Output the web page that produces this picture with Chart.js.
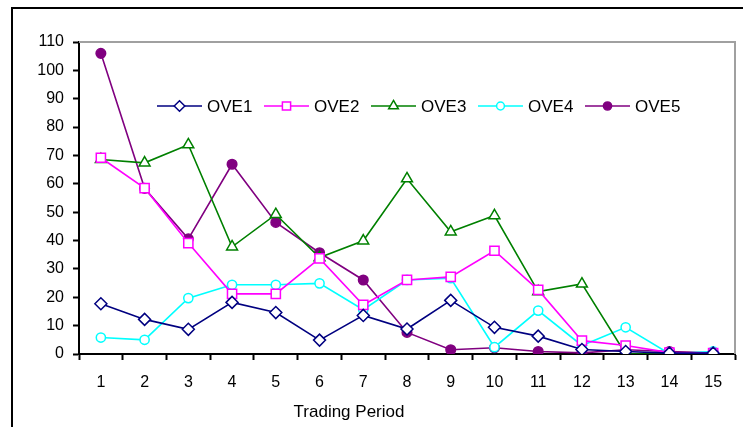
<!DOCTYPE html>
<html>
<head>
<meta charset="utf-8">
<script src="https://cdn.jsdelivr.net/npm/chart.js@4"></script>
<style>
  html, body { margin: 0; padding: 0; background: #fff; }
  #wrap { width: 743px; height: 427px; position: relative; }
</style>
</head>
<body>
<div id="wrap"><canvas id="chart" width="743" height="427"></canvas></div>
<script>
const periods = ['1', '2', '3', '4', '5', '6', '7', '8', '9', '10', '11', '12', '13', '14', '15'];
const ove1 = [17.7, 12.2, 8.7, 18.2, 14.6, 4.9, 13.6, 8.8, 18.9, 9.4, 6.3, 1.6, 0.9, 0.3, 0.3];
const ove2 = [69.2, 58.5, 39.1, 21.2, 21.2, 33.7, 17.3, 26.1, 27.2, 36.4, 22.6, 4.7, 3.0, 0.5, 0.3];
const ove3 = [68.6, 67.4, 73.8, 37.8, 49.2, 34.0, 39.9, 61.8, 43.1, 48.8, 22.0, 24.7, 0.0, 0.0, 0.0];
const ove4 = [5.8, 5.0, 19.7, 24.4, 24.4, 24.9, 15.6, 26.1, 26.7, 2.4, 15.3, 3.0, 9.4, 0.1, 0.9];
const ove5 = [106.0, 58.4, 40.6, 66.9, 46.4, 35.7, 26.1, 7.6, 1.5, 2.2, 0.9, 0.4, 1.5, 0.9, 0.4];
const yTicks = [0, 10, 20, 30, 40, 50, 60, 70, 80, 90, 100, 110];

const FONT = 'Liberation Sans, Arial, sans-serif';

function series(label, data, color, style, radius, fill) {
  return {
    label, data,
    borderColor: color,
    borderWidth: 1.6,
    pointStyle: style,
    pointRadius: radius,
    pointHoverRadius: radius,
    pointBorderColor: color,
    pointBorderWidth: 1.5,
    pointBackgroundColor: fill ? color : '#fff',
    tension: 0,
    fill: false
  };
}

const frame = {
  id: 'frame',
  beforeDraw(chart) {
    const ctx = chart.ctx;
    ctx.save();
    ctx.fillStyle = '#fff';
    ctx.fillRect(0, 0, chart.width, chart.height);
    ctx.strokeStyle = '#000';
    ctx.lineWidth = 2;
    ctx.strokeRect(12, 8, 740, 430);
    ctx.restore();
  },
  afterDraw(chart) {
    const { ctx, chartArea: a } = chart;
    ctx.save();
    ctx.strokeStyle = '#a0a0a0';
    ctx.lineWidth = 2;
    ctx.beginPath();
    ctx.moveTo(a.left, a.top);
    ctx.lineTo(a.right, a.top);
    ctx.lineTo(a.right, a.bottom);
    ctx.stroke();

    // axis title
    ctx.fillStyle = '#000';
    ctx.font = '17px ' + FONT;
    ctx.textAlign = 'center';
    ctx.textBaseline = 'alphabetic';
    ctx.fillText('Trading Period', 349, 417);

    // legend with line + marker
    ctx.font = '17px ' + FONT;
    ctx.textAlign = 'left';
    ctx.textBaseline = 'middle';
    const y = 106;
    chart.data.datasets.forEach((ds, i) => {
      const x0 = 157 + i * 107;
      ctx.strokeStyle = ds.borderColor;
      ctx.lineWidth = 1.6;
      ctx.beginPath();
      ctx.moveTo(x0, y);
      ctx.lineTo(x0 + 45, y);
      ctx.stroke();
      ctx.fillStyle = ds.pointBackgroundColor;
      ctx.lineWidth = 1.5;
      Chart.helpers.drawPoint(ctx, { pointStyle: ds.pointStyle, radius: ds.pointRadius - 0.7, rotation: 0, borderWidth: 1.5 }, x0 + 22.5, y);
      ctx.fillStyle = '#000';
      ctx.fillText(ds.label, x0 + 50, y + 1);
    });
    ctx.restore();
  }
};

new Chart(document.getElementById('chart'), {
  type: 'line',
  data: {
    labels: periods,
    datasets: [
      series('OVE1', ove1, '#000080', 'rectRot', 6, false),
      series('OVE2', ove2, '#ff00ff', 'rect', 6.5, false),
      series('OVE3', ove3, '#008000', 'triangle', 6.3, false),
      series('OVE4', ove4, '#00ffff', 'circle', 4.6, false),
      series('OVE5', ove5, '#800080', 'circle', 4.8, true)
    ]
  },
  options: {
    responsive: false,
    animation: false,
    events: [],
    layout: { padding: { left: 0, top: 42, right: 3, bottom: 0 } },
    plugins: { legend: { display: false }, tooltip: { enabled: false } },
    scales: {
      x: {
        offset: true,
        afterFit(scale) { scale.height = 73; },
        grid: { display: true, drawOnChartArea: false, offset: true, tickLength: 6, color: '#000', tickWidth: 2 },
        border: { color: '#000', width: 2 },
        ticks: { color: '#000', font: { family: FONT, size: 16 }, padding: 13, maxRotation: 0, autoSkip: false }
      },
      y: {
        min: 0,
        max: 110,
        afterFit(scale) { scale.width = 79; },
        afterBuildTicks(scale) { scale.ticks = yTicks.map(v => ({ value: v })); },
        grid: { display: true, drawOnChartArea: false, tickLength: 6, color: '#000', tickWidth: 2 },
        border: { color: '#000', width: 2 },
        ticks: { color: '#000', font: { family: FONT, size: 16 }, padding: 9 }
      }
    }
  },
  plugins: [frame]
});
</script>
</body>
</html>
